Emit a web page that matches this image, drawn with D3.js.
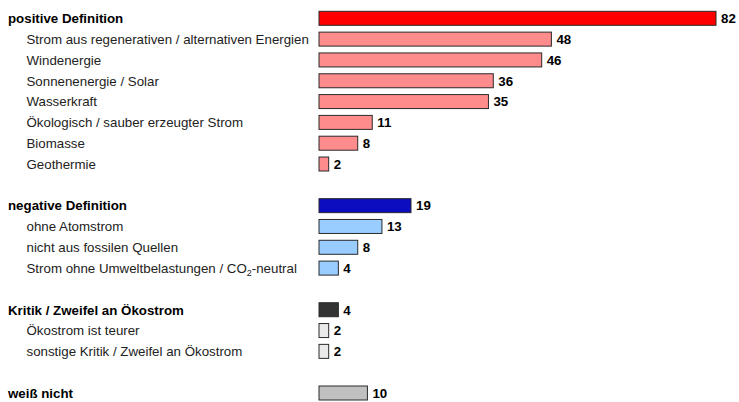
<!DOCTYPE html>
<html>
<head>
<meta charset="utf-8">
<script src="https://cdn.jsdelivr.net/npm/d3@7"></script>
<style>
  body { margin: 0; background: #fff; }
  svg { display: block; }
</style>
</head>
<body>
<div id="chart"></div>
<script>
// rows of the chart; null marks an empty spacer row
const labels = [
  "positive Definition",
  "Strom aus regenerativen / alternativen Energien",
  "Windenergie",
  "Sonnenenergie / Solar",
  "Wasserkraft",
  "Ökologisch / sauber erzeugter Strom",
  "Biomasse",
  "Geothermie",
  null,
  "negative Definition",
  "ohne Atomstrom",
  "nicht aus fossilen Quellen",
  "Strom ohne Umweltbelastungen / CO_2-neutral",
  null,
  "Kritik / Zweifel an Ökostrom",
  "Ökostrom ist teurer",
  "sonstige Kritik / Zweifel an Ökostrom",
  null,
  "weiß nicht"
];
const values = [82, 48, 46, 36, 35, 11, 8, 2, null, 19, 13, 8, 4, null, 4, 2, 2, null, 10];
// 1 = group heading, 2 = sub item
const levels = [1, 2, 2, 2, 2, 2, 2, 2, 0, 1, 2, 2, 2, 0, 1, 2, 2, 0, 1];
const groups = ["pos", "pos", "pos", "pos", "pos", "pos", "pos", "pos", null,
  "neg", "neg", "neg", "neg", null, "krit", "krit", "krit", null, "wn"];

const width = 739;
const height = 402;
const font = "Liberation Sans, Arial, Helvetica, sans-serif";
const fontSize = "13.3px";

const svg = d3.select("#chart")
  .append("svg")
  .attr("width", width)
  .attr("height", height);

const rows = labels.map((d, i) => ({
  i: i, label: d, value: values[i], level: levels[i], group: groups[i]
}));

const x = d3.scaleLinear().domain([0, 82]).range([319, 716]);
const y = d3.scalePoint()
  .domain(d3.range(rows.length))
  .range([18.3, 393]);

const fillFor = (d) => {
  if (d.group === "pos") return d.level === 1 ? "#ff0000" : "#ff8c8c";
  if (d.group === "neg") return d.level === 1 ? "#0c0cc0" : "#99ccff";
  if (d.group === "krit") return d.level === 1 ? "#333333" : "#eaeaea";
  return "#c0c0c0";
};

const data = rows.filter((d) => d.label !== null);
const barH = 14;

// ---------------- labels ----------------
const txt = svg.append("g")
  .selectAll("text.label")
  .data(data)
  .join("text")
  .attr("class", "label")
  .attr("x", (d) => (d.level === 1 ? 8 : 26.5))
  .attr("y", (d) => y(d.i))
  .attr("dy", "0.36em")
  .attr("font-family", font)
  .attr("font-size", fontSize)
  .attr("font-weight", (d) => (d.level === 1 ? "bold" : "normal"))
  .attr("fill", (d) => (d.level === 1 ? "#000" : "#222"));

txt.each(function (d) {
  const el = d3.select(this);
  const parts = d.label.split("_2");
  if (parts.length === 1) {
    el.text(d.label);
    return;
  }
  el.append("tspan").text(parts[0]);
  el.append("tspan").attr("font-size", "9px").attr("dy", "3").text("2");
  el.append("tspan").attr("dy", "-3").text(parts[1]);
});

// ---------------- bars ----------------
svg.append("g")
  .selectAll("rect.bar")
  .data(data)
  .join("rect")
  .attr("class", "bar")
  .attr("x", x(0))
  .attr("y", (d) => y(d.i) - barH / 2)
  .attr("width", (d) => x(d.value) - x(0))
  .attr("height", barH)
  .attr("fill", (d) => fillFor(d))
  .attr("stroke", "#2a2a2a")
  .attr("stroke-width", 1);

// ---------------- value labels ----------------
svg.append("g")
  .selectAll("text.value")
  .data(data)
  .join("text")
  .attr("class", "value")
  .attr("x", (d) => x(d.value) + 5)
  .attr("y", (d) => y(d.i))
  .attr("dy", "0.36em")
  .attr("font-family", font)
  .attr("font-size", fontSize)
  .attr("font-weight", "bold")
  .text((d) => d.value);
</script>
</body>
</html>
